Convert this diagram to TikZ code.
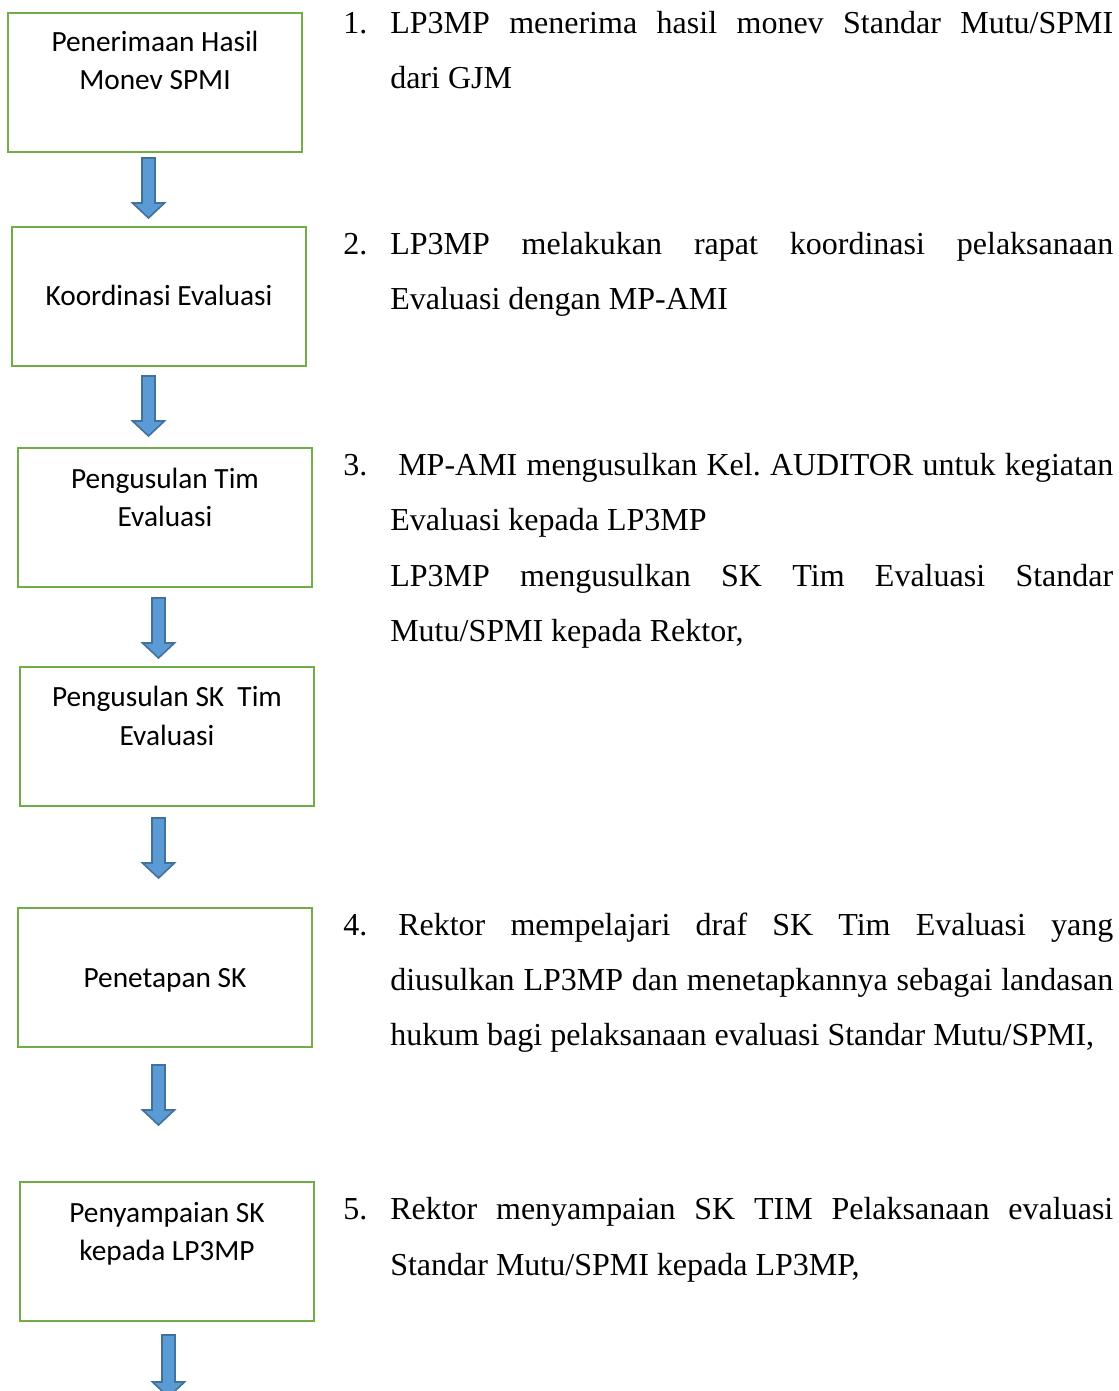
\documentclass[tikz,border=0pt]{standalone}
\usepackage{fontspec}
\setmainfont{Liberation Serif}
\newfontfamily\boxfont{Carlito}
\definecolor{boxgreen}{HTML}{70AD47}
\definecolor{arrfill}{HTML}{5B9BD5}
\definecolor{arrdraw}{HTML}{41719C}
\newcommand{\blockarrow}[3]{% x, ytop, ytip
  \fill[arrfill,draw=arrdraw,line width=1.2pt,line join=miter]
    (#1-6.5,#2) -- (#1+6.5,#2) -- (#1+6.5,#3-15) -- (#1+16,#3-15) -- (#1,#3)
    -- (#1-16,#3-15) -- (#1-6.5,#3-15) -- cycle;}
\frenchspacing
\begin{document}
\begin{tikzpicture}[x=0.75pt,y=-0.75pt,
  stepbox/.style={draw=boxgreen,line width=2pt,fill=white},
  boxtxt/.style={font=\boxfont\fontsize{22}{26}\selectfont,anchor=base,inner sep=0pt},
  rtxt/.style={font=\fontsize{24}{28}\selectfont,anchor=base west,inner sep=0pt}]
\clip (0,0) rectangle (1118,1391);
\fill[white] (0,0) rectangle (1118,1391);
% boxes
\draw[stepbox] (8,13) rectangle (302,152);
\draw[stepbox] (12,227) rectangle (306,366);
\draw[stepbox] (18,448) rectangle (312,587);
\draw[stepbox] (20,667) rectangle (314,806);
\draw[stepbox] (18,908) rectangle (312,1047);
\draw[stepbox] (20,1182) rectangle (314,1321);
% box texts
\node[boxtxt] (b1a) at (155,52) {Penerimaan Hasil};
\node[boxtxt] (b1b) at (155,90) {Monev SPMI};
\node[boxtxt] (b2) at (159,305) {Koordinasi Evaluasi};
\node[boxtxt] (b3a) at (165,488) {Pengusulan Tim};
\node[boxtxt] (b3b) at (165,526) {Evaluasi};
\node[boxtxt] (b4a) at (167,706) {Pengusulan SK\ \ Tim};
\node[boxtxt] (b4b) at (167,745) {Evaluasi};
\node[boxtxt] (b5) at (165,987) {Penetapan SK};
\node[boxtxt] (b6a) at (167,1222) {Penyampaian SK};
\node[boxtxt] (b6b) at (167,1260) {kepada LP3MP};
% arrows
\blockarrow{148.5}{158}{218}
\blockarrow{148.5}{376}{436}
\blockarrow{158.5}{598}{658}
\blockarrow{158.5}{818}{878}
\blockarrow{158.5}{1065}{1125}
\blockarrow{168.5}{1335}{1397}
% right text
\node[rtxt] (n1) at (343,34) {1.};
\node[rtxt] (t1a) at (390,34) {\makebox[542.25pt][s]{LP3MP menerima hasil monev Standar Mutu/SPMI}};
\node[rtxt] (t1b) at (390,89) {dari GJM};
\node[rtxt] (n2) at (343,254) {2.};
\node[rtxt] (t2a) at (390,254) {\makebox[542.25pt][s]{LP3MP melakukan rapat koordinasi pelaksanaan}};
\node[rtxt] (t2b) at (390,309) {Evaluasi dengan MP-AMI};
\node[rtxt] (n3) at (343,475) {3.};
\node[rtxt] (t3a) at (398,475) {\makebox[536.25pt][s]{MP-AMI mengusulkan Kel. AUDITOR untuk kegiatan}};
\node[rtxt] (t3b) at (390,530) {Evaluasi kepada LP3MP};
\node[rtxt] (t3c) at (390,586) {\makebox[542.25pt][s]{LP3MP mengusulkan SK Tim Evaluasi Standar}};
\node[rtxt] (t3d) at (390,641) {Mutu/SPMI kepada Rektor,};
\node[rtxt] (n4) at (343,935) {4.};
\node[rtxt] (t4a) at (398,935) {\makebox[536.25pt][s]{Rektor mempelajari draf SK Tim Evaluasi yang}};
\node[rtxt] (t4b) at (390,990) {\makebox[542.25pt][s]{diusulkan LP3MP dan menetapkannya sebagai landasan}};
\node[rtxt] (t4c) at (390,1045) {hukum bagi pelaksanaan evaluasi Standar Mutu/SPMI,};
\node[rtxt] (n5) at (343,1219) {5.};
\node[rtxt] (t5a) at (390,1219) {\makebox[542.25pt][s]{Rektor menyampaian SK TIM Pelaksanaan evaluasi}};
\node[rtxt] (t5b) at (390,1275) {Standar Mutu/SPMI kepada LP3MP,};
\end{tikzpicture}
\end{document}
